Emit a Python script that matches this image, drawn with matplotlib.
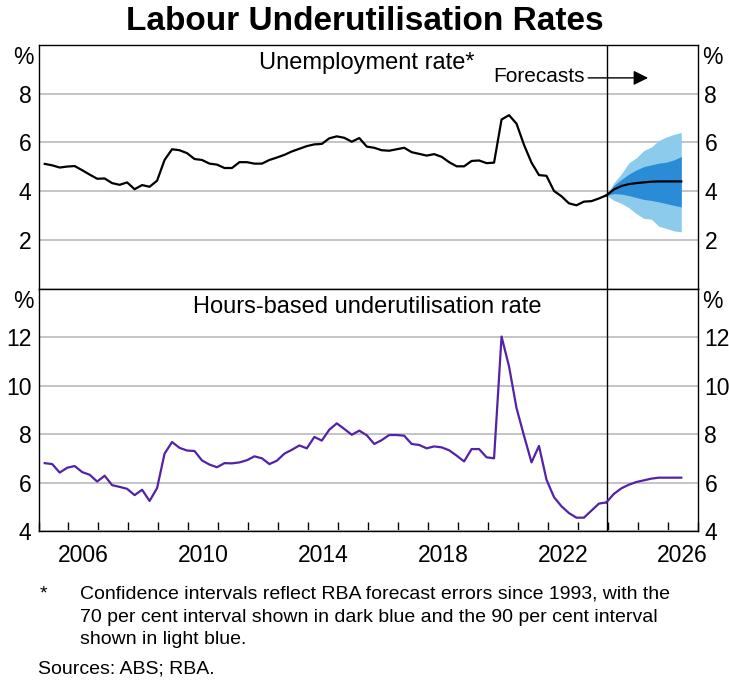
"""
Labour underutilisation rates - unemployment and hours-based rates with forecasts
"""

import matplotlib
matplotlib.use('Agg')
import matplotlib.pyplot as plt
import numpy as np
import pandas as pd
from matplotlib import font_manager

plt.rcParams['font.family'] = ['Liberation Sans', 'DejaVu Sans']

# Quarterly history, March 2005 to December 2023
hist_quarters = pd.period_range('2005Q1', '2023Q4', freq='Q')
unemployment = [
    5.12, 5.06, 4.97, 5.01, 5.03, 4.86, 4.68, 4.51, 4.52, 4.33,
    4.26, 4.36, 4.08, 4.25, 4.18, 4.43, 5.28, 5.72, 5.68, 5.56,
    5.32, 5.28, 5.13, 5.09, 4.95, 4.95, 5.19, 5.19, 5.13, 5.13,
    5.28, 5.38, 5.49, 5.63, 5.74, 5.85, 5.92, 5.94, 6.17, 6.25,
    6.19, 6.03, 6.18, 5.83, 5.78, 5.68, 5.66, 5.72, 5.78, 5.60,
    5.53, 5.46, 5.52, 5.41, 5.19, 5.02, 5.02, 5.24, 5.26, 5.15,
    5.17, 6.94, 7.12, 6.77, 5.90, 5.17, 4.66, 4.63, 4.01, 3.79,
    3.50, 3.42, 3.57, 3.59, 3.70, 3.83,
]
hours_underutil = [
    6.80, 6.76, 6.41, 6.61, 6.68, 6.43, 6.32, 6.04, 6.28, 5.89,
    5.82, 5.74, 5.48, 5.70, 5.24, 5.77, 7.19, 7.67, 7.43, 7.32,
    7.30, 6.91, 6.74, 6.63, 6.80, 6.79, 6.83, 6.92, 7.08, 7.00,
    6.76, 6.90, 7.19, 7.35, 7.53, 7.41, 7.88, 7.73, 8.18, 8.44,
    8.21, 7.97, 8.14, 7.95, 7.59, 7.75, 7.96, 7.96, 7.93, 7.59,
    7.55, 7.41, 7.49, 7.45, 7.33, 7.11, 6.87, 7.38, 7.38, 7.04,
    7.00, 12.02, 10.79, 9.07, 7.93, 6.83, 7.51, 6.12, 5.40, 5.02,
    4.74, 4.55, 4.55, 4.84, 5.13, 5.18,
]

# Forecasts, December 2023 to June 2026
fc_quarters = pd.period_range('2023Q4', '2026Q2', freq='Q')
unemp_fc = [3.83, 4.07, 4.21, 4.29, 4.33, 4.36, 4.39, 4.40, 4.40, 4.40, 4.40]
unemp_70_hi = [3.83, 4.24, 4.48, 4.70, 4.87, 5.01, 5.08, 5.15, 5.19, 5.28, 5.42]
unemp_70_lo = [3.83, 3.90, 3.88, 3.82, 3.74, 3.66, 3.62, 3.56, 3.49, 3.42, 3.35]
unemp_90_hi = [3.83, 4.34, 4.71, 5.16, 5.37, 5.67, 5.81, 6.08, 6.22, 6.33, 6.41]
unemp_90_lo = [3.83, 3.62, 3.50, 3.32, 3.08, 2.88, 2.85, 2.56, 2.47, 2.37, 2.33]
hours_fc = [5.18, 5.53, 5.76, 5.91, 6.02, 6.09, 6.16, 6.20, 6.20, 6.20, 6.20]

year_labels = [2006, 2010, 2014, 2018, 2022, 2026]

DARK_BLUE = '#2a8cd6'
LIGHT_BLUE = '#8ccbec'
PURPLE = '#5322a8'
GRID = '#c4c4c4'
TICK_FS = 16.5


def to_decimal(periods):
    # plot each quarter at the middle of its last month
    return np.array([p.year + p.quarter * 0.25 - 1 / 24 for p in periods])


t_hist = to_decimal(hist_quarters)
t_fc = to_decimal(fc_quarters)
t_split = t_hist[-1] + 0.03

fig = plt.figure(figsize=(7.29, 6.82), dpi=100)
W, H = 729, 682
ax1 = fig.add_axes([38.5 / W, 1 - 288.6 / H, 659 / W, 243.6 / H])
ax2 = fig.add_axes([38.5 / W, 1 - 531 / H, 659 / W, 242.4 / H])


def style_axis(ax, ymin, ymax, yticks):
    ax.set_xlim(2005, 2027)
    ax.set_ylim(ymin, ymax)
    ax.set_yticks(yticks)
    ax.yaxis.grid(True, color=GRID, linewidth=1.4)
    ax.set_axisbelow(True)
    ax.tick_params(axis='y', length=0, labelsize=TICK_FS, labelleft=True,
                   labelright=True, pad=5)
    for spine in ax.spines.values():
        spine.set_linewidth(1.0)
        spine.set_color('black')
    for xpos, ha in [(0, 'right'), (1, 'left')]:
        ax.annotate('%', xy=(xpos, 1), xycoords='axes fraction',
                    xytext=(-3.5 if ha == 'right' else 3.5, -1),
                    textcoords='offset points', ha=ha, va='top',
                    fontsize=TICK_FS)
    ax.axvline(t_split, color='black', linewidth=1.0, zorder=4)


# === Top panel: unemployment rate ===
style_axis(ax1, 0, 10, [2, 4, 6, 8])
ax1.tick_params(axis='x', length=0, labelbottom=False)
ax1.set_xticks([])
ax1.fill_between(t_fc, unemp_90_lo, unemp_90_hi, color=LIGHT_BLUE,
                 linewidth=0, zorder=2)
ax1.fill_between(t_fc, unemp_70_lo, unemp_70_hi, color=DARK_BLUE,
                 linewidth=0, zorder=3)
ax1.plot(t_hist, unemployment, color='black', linewidth=1.6, zorder=5)
ax1.plot(t_fc, unemp_fc, color='black', linewidth=1.6, zorder=5)
ax1.text(0.498, 0.925, 'Unemployment rate*', transform=ax1.transAxes,
         ha='center', va='center', fontsize=17)
ax1.text(2023.22, 8.7, 'Forecasts', ha='right', va='center', fontsize=15)
ax1.annotate('', xy=(2025.35, 8.65), xytext=(2023.35, 8.65),
             arrowprops=dict(arrowstyle='-|>', color='black', lw=1.0,
                             mutation_scale=22, shrinkA=0, shrinkB=0))

# === Bottom panel: hours-based underutilisation rate ===
style_axis(ax2, 4, 14, [4, 6, 8, 10, 12])
ax2.plot(t_hist, hours_underutil, color=PURPLE, linewidth=1.6, zorder=5)
ax2.plot(t_fc, hours_fc, color=PURPLE, linewidth=1.6, zorder=5)
ax2.text(0.499, 0.925, 'Hours-based underutilisation rate',
         transform=ax2.transAxes, ha='center', va='center', fontsize=17)

ax2.set_xticks(np.arange(2005, 2028))
ax2.tick_params(axis='x', which='major', direction='in', length=6.5,
                width=1.0, labelbottom=False)
ax2.set_xticks([y + 0.5 for y in year_labels], minor=True)
ax2.set_xticklabels([str(y) for y in year_labels], minor=True)
ax2.tick_params(axis='x', which='minor', length=0, labelsize=TICK_FS, pad=9)

# Title and notes
fig.text(0.5, 1 - 22 / H, 'Labour Underutilisation Rates', ha='center',
         va='center', fontsize=24, fontweight='bold')

installed = {f.name for f in font_manager.fontManager.ttflist}
if 'Liberation Sans Narrow' in installed:
    note_family, note_fs = ['Liberation Sans Narrow', 'DejaVu Sans'], 14.5
else:
    note_family, note_fs = ['Liberation Sans', 'DejaVu Sans'], 14

fig.text(40 / W, 1 - 594 / H, '*', ha='left', va='center',
         fontsize=note_fs, family=note_family)
note_lines = [
    'Confidence intervals reflect RBA forecast errors since 1993, with the',
    '70 per cent interval shown in dark blue and the 90 per cent interval',
    'shown in light blue.',
]
for i, line in enumerate(note_lines):
    fig.text(80 / W, 1 - (594 + 23 * i) / H, line, ha='left', va='center',
             fontsize=note_fs, family=note_family)
fig.text(38 / W, 1 - 669 / H, 'Sources: ABS; RBA.', ha='left', va='center',
         fontsize=note_fs, family=note_family)

plt.savefig('out.png', dpi=100)
plt.close()
